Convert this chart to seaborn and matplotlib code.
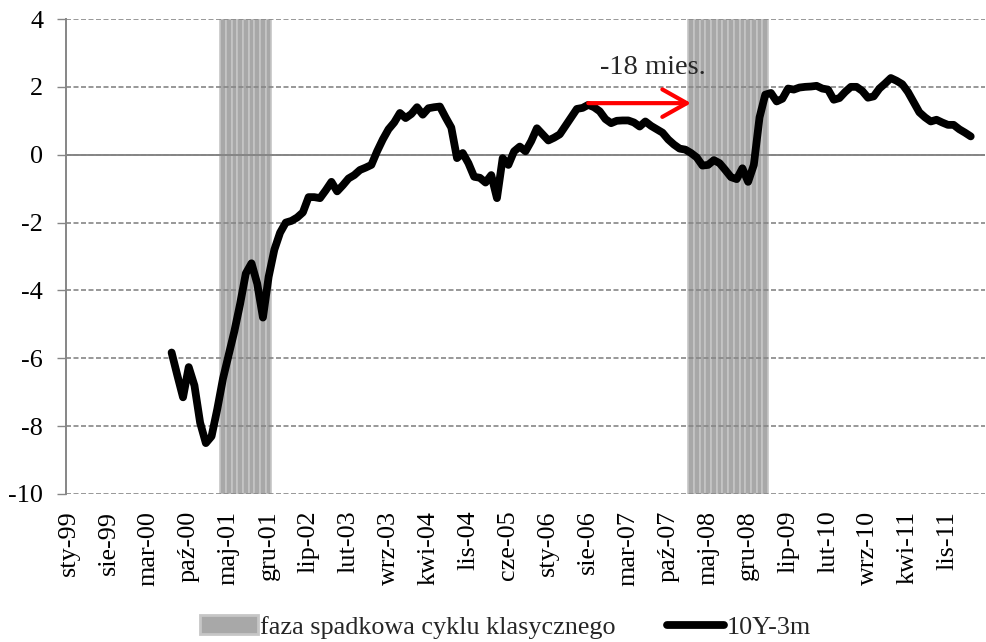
import numpy as np
import pandas as pd
import seaborn as sb
from matplotlib import pyplot as plt
from matplotlib.patches import Patch
from matplotlib.lines import Line2D

# month axis: sty-99 .. maj-12
month_names = ['sty', 'lut', 'mar', 'kwi', 'maj', 'cze', 'lip', 'sie', 'wrz', 'paź', 'lis', 'gru']
first_year = 1999
n_months = 161
label_step = 7

# 10Y-3m spread, monthly, first value = lip-00 (month 18)
spread_start = 18
spread = [
    -5.83, -6.5, -7.15, -6.26, -6.8, -7.9, -8.5, -8.3, -7.5, -6.6,
    -5.9, -5.2, -4.4, -3.5, -3.2, -3.8, -4.8, -3.6, -2.8, -2.3,
    -2.0, -1.95, -1.85, -1.7, -1.25, -1.25, -1.28, -1.05, -0.8, -1.08,
    -0.9, -0.7, -0.6, -0.45, -0.38, -0.3, 0.1, 0.45, 0.75, 0.95,
    1.23, 1.08, 1.2, 1.4, 1.18, 1.37, 1.4, 1.42, 1.1, 0.8,
    -0.1, 0.05, -0.25, -0.65, -0.68, -0.82, -0.6, -1.28, -0.1, -0.3,
    0.1, 0.24, 0.1, 0.4, 0.78, 0.6, 0.42, 0.5, 0.6, 0.85,
    1.1, 1.35, 1.38, 1.47, 1.4, 1.28, 1.05, 0.93, 1.0, 1.01,
    1.01, 0.95, 0.83, 0.98, 0.85, 0.75, 0.65, 0.45, 0.3, 0.18,
    0.15, 0.05, -0.08, -0.32, -0.3, -0.16, -0.25, -0.45, -0.66, -0.72,
    -0.4, -0.8, -0.3, 1.1, 1.77, 1.82, 1.57, 1.65, 1.95, 1.92,
    1.98, 2.0, 2.01, 2.03, 1.95, 1.92, 1.62, 1.67, 1.85, 2.0,
    2.0, 1.88, 1.68, 1.72, 1.95, 2.1, 2.26, 2.18, 2.08, 1.85,
    1.55, 1.25, 1.1, 0.98, 1.03, 0.95, 0.88, 0.88, 0.75, 0.65,
    0.54,
]

# downturn phases (first and last month index): kwi-01..gru-01, lut-08..mar-09
phase_start = [27, 109]
phase_end = [35, 122]

# red arrow: from the spread peak to the start of the next downturn
arrow_from, arrow_to, arrow_level = 91, 109, 1.52
arrow_label = '-18 mies.'

y_min, y_max = -10, 4

labels = [f"{month_names[i % 12]}-{(first_year + i // 12) % 100:02d}" for i in range(n_months)]
values = np.full(n_months, np.nan)
values[spread_start:spread_start + len(spread)] = spread
df = pd.DataFrame({'idx': np.arange(n_months), 'label': labels, 'spread': values})

sb.set_theme(style='white')
plt.rcParams['font.family'] = ['Liberation Serif', 'DejaVu Serif']

grey = '#868686'
band_face = '#a8a8a8'
band_edge = '#c6c6c6'
fs = 18.8

fig = plt.figure(figsize=(9.86, 6.42), dpi=100)
ax = fig.add_axes([66 / 986, 1 - 494 / 642, (985 - 66) / 986, (494 - 19) / 642])

for s, e in zip(phase_start, phase_end):
    idx = np.arange(s, e + 1)
    ax.bar(idx, y_max - y_min, bottom=y_min, width=1, color=band_face,
           edgecolor=band_edge, linewidth=1.2, zorder=1)

ax.set_yticks(np.arange(y_min, y_max + 1, 2))
ax.yaxis.grid(True, linestyle=(0, (3, 1.5)), color=grey, linewidth=1.2)
ax.xaxis.grid(False)
ax.set_axisbelow(False)
ax.axhline(0, color=grey, linewidth=1.4, zorder=2.6)

sb.lineplot(data=df, x='idx', y='spread', color='black', linewidth=5.6,
            solid_capstyle='round', solid_joinstyle='round', ax=ax, zorder=3)

ax.annotate('', xy=(arrow_to, arrow_level), xytext=(arrow_from, arrow_level),
            arrowprops=dict(arrowstyle='->,head_length=0.8,head_width=0.45',
                            color='red', lw=3, shrinkA=0, shrinkB=0,
                            mutation_scale=22), zorder=4)
ax.text((arrow_from + arrow_to) / 2 + 2.4, arrow_level + 1.04, arrow_label,
        ha='center', va='center', fontsize=20.5)

ax.set_xlim(-0.5, n_months - 0.5)
ax.set_ylim(y_min, y_max)
ax.set_xticks(df['idx'][::label_step])
ax.set_xticklabels(df['label'][::label_step], rotation=90, fontsize=fs)
ax.set_yticklabels([str(v) for v in range(y_min, y_max + 1, 2)], fontsize=fs)
ax.set_xlabel('')
ax.set_ylabel('')

for side in ['top', 'right', 'bottom']:
    ax.spines[side].set_visible(False)
ax.spines['left'].set_color(grey)
ax.spines['left'].set_linewidth(1.4)
ax.tick_params(axis='y', left=True, length=6.5, width=1.0, color=grey, pad=10, colors='black')
ax.tick_params(axis='x', bottom=True, length=0, pad=12, colors='black')

handles = [Patch(facecolor=band_face, edgecolor=band_edge, linewidth=2),
           Line2D([], [], color='black', linewidth=5.6, solid_capstyle='round')]
fig.legend(handles, ['faza spadkowa cyklu klasycznego', '10Y-3m'], loc='center',
           bbox_to_anchor=(0.513, 1 - 627 / 642), ncol=2, frameon=False, fontsize=fs,
           handlelength=2.2, handletextpad=0.1, columnspacing=1.95)

fig.savefig('out.png', dpi=100)
